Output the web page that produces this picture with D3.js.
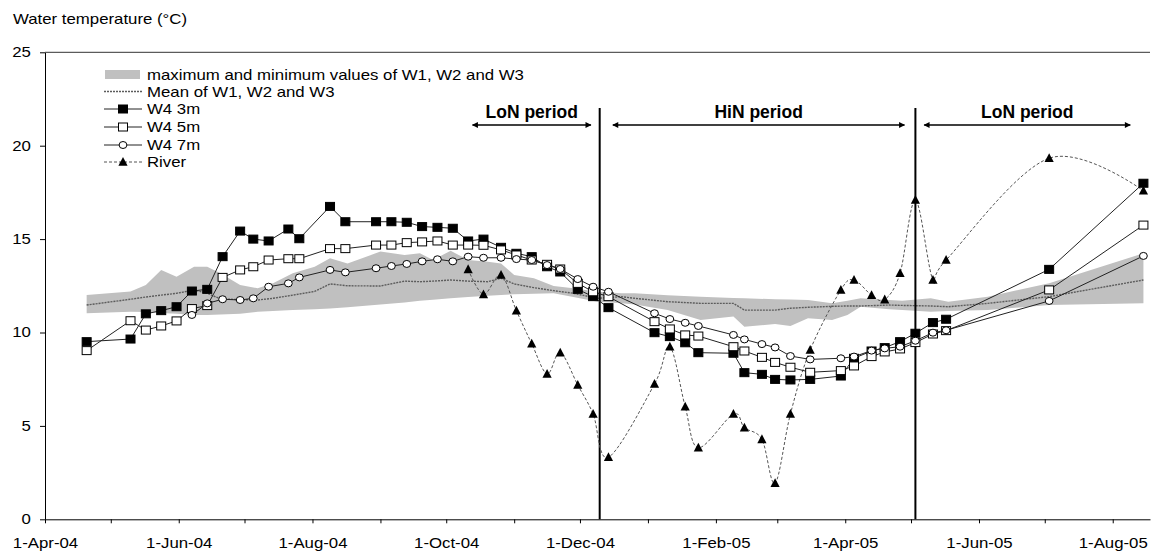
<!DOCTYPE html>
<html>
<head>
<meta charset="utf-8">
<script src="https://cdn.jsdelivr.net/npm/d3@7"></script>
<style>
  body { margin: 0; background: #fff; }
  text { font-family: "Liberation Sans", Arial, sans-serif; fill: #000; }
</style>
</head>
<body>
<div id="chart"></div>
<script>
// sampling dates of the W4 wells and the river
const sampleDates = ["2004-04-20","2004-05-10","2004-05-17","2004-05-24","2004-05-31","2004-06-07","2004-06-14","2004-06-21","2004-06-29","2004-07-05",
  "2004-07-12","2004-07-21","2004-07-26","2004-08-09","2004-08-16","2004-08-30","2004-09-06","2004-09-13","2004-09-20","2004-09-27",
  "2004-10-04","2004-10-11","2004-10-18","2004-10-26","2004-11-02","2004-11-09","2004-11-16","2004-11-22","2004-11-30","2004-12-07",
  "2004-12-14","2005-01-04","2005-01-11","2005-01-18","2005-01-24","2005-02-09","2005-02-14","2005-02-22","2005-02-28","2005-03-07",
  "2005-03-16","2005-03-30","2005-04-05","2005-04-13","2005-04-19","2005-04-26","2005-05-03","2005-05-11","2005-05-17","2005-07-03",
  "2005-08-15"];

const w4_3m = [9.51,9.65,11.0,11.17,11.38,12.22,12.31,14.06,15.43,15.0,
  14.9,15.54,15.02,16.75,15.93,15.93,15.93,15.9,15.67,15.63,
  15.58,14.9,15.0,14.56,14.24,14.06,13.52,13.24,12.31,11.92,
  11.33,9.99,9.78,9.45,8.92,8.89,7.85,7.76,7.49,7.46,
  7.49,7.67,8.62,9.01,9.19,9.51,9.96,10.53,10.71,13.38,
  17.99];

const w4_5m = [9.03,10.63,10.13,10.35,10.62,11.28,11.44,12.95,13.35,13.52,
  13.88,13.95,13.95,14.49,14.49,14.68,14.68,14.81,14.85,14.9,
  14.68,14.68,14.67,14.42,14.15,13.88,13.65,13.4,12.63,12.18,
  11.92,10.58,10.19,9.87,9.81,9.24,9.01,8.67,8.4,8.14,
  7.87,7.96,8.21,8.71,8.96,9.12,9.46,9.92,10.1,12.28,
  15.75];

const w4_7m = [null,null,null,null,null,10.94,11.56,11.78,11.74,11.83,
  12.45,12.63,12.95,13.35,13.22,13.44,13.56,13.67,13.81,13.92,
  13.81,14.06,14.0,14.0,13.93,13.88,13.61,13.4,12.86,12.45,
  12.18,11.03,10.72,10.52,10.35,9.87,9.63,9.38,9.2,8.74,
  8.56,8.62,8.71,9.03,9.15,9.24,9.56,9.99,10.12,11.69,
  14.1];

const river = [null,null,null,null,null,null,null,null,null,null,
  null,null,null,null,null,null,null,null,null,null,
  null,13.38,12.04,13.08,11.17,9.4,7.78,8.92,7.19,5.64,
  3.32,7.24,9.24,6.03,3.83,5.64,4.9,4.28,1.93,5.64,
  9.06,12.28,12.81,12.0,11.76,13.17,17.09,12.81,13.88,19.33,
  17.59];

// W1, W2, W3 envelope and mean
const bandDates = ["2004-04-20","2004-05-10","2004-05-17","2004-05-24","2004-05-31","2004-06-08","2004-06-14","2004-06-20","2004-06-29","2004-07-07",
  "2004-07-14","2004-07-23","2004-08-02","2004-08-09","2004-08-17","2004-09-01","2004-09-12","2004-09-19","2004-09-25","2004-10-03",
  "2004-10-11","2004-10-20","2004-10-26","2004-11-01","2004-11-10","2004-11-19","2004-11-28","2004-12-09","2004-12-20","2004-12-26",
  "2005-01-10","2005-01-25","2005-02-09","2005-02-14","2005-02-28","2005-03-07","2005-03-15","2005-03-26","2005-04-02","2005-04-08",
  "2005-04-21","2005-04-27","2005-05-10","2005-05-18","2005-06-05","2005-07-03","2005-08-15"];
const bandMax = [12.01,12.19,12.54,13.35,12.99,13.52,13.52,13.17,12.54,12.37,
  12.63,13.17,13.52,13.97,13.7,14.33,14.15,14.24,13.88,14.38,
  13.88,13.79,13.7,13.08,12.9,12.49,12.37,12.18,12.1,12.1,
  12.0,11.92,11.85,11.83,11.78,11.76,11.74,11.56,11.7,11.83,
  11.74,11.7,11.83,11.65,11.92,12.63,14.24];
const bandMin = [11.03,11.11,11.1,11.05,11.0,10.94,10.94,10.97,11.0,11.11,
  11.15,11.2,11.25,11.29,11.35,11.5,11.6,11.7,11.75,11.83,
  11.9,11.97,12.01,12.05,12.08,12.1,11.9,11.65,11.56,11.5,
  11.2,10.67,10.85,10.31,10.45,10.35,10.76,10.67,10.94,11.38,
  11.25,11.2,11.11,11.15,11.2,11.47,11.56];
const bandMean = [11.47,11.78,11.9,12.0,12.1,12.27,12.1,11.8,11.76,11.74,
  11.83,12.0,12.2,12.6,12.5,12.49,12.75,12.72,12.75,12.81,
  12.75,12.72,12.9,12.6,12.4,12.24,12.1,11.83,11.92,11.83,
  11.65,11.56,11.56,11.2,11.2,11.3,11.35,11.4,11.42,11.42,
  11.47,11.45,11.42,11.38,11.56,11.92,12.81];

// period boundaries and annotations
const periodLines = ["2004-12-10","2005-05-03"];
const periodNames = ["LoN period","HiN period","LoN period"];
const periodStart = ["2004-10-13","2004-12-16","2005-05-07"];
const periodEnd = ["2004-12-06","2005-04-28","2005-08-09"];

const yTicks = [0,5,10,15,20,25];

const parse = d3.utcParse("%Y-%m-%d");
const W = 1166, H = 553;
const SX = 1.2; // text in the picture is stretched sideways

const x = d3.scaleUtc()
  .domain([parse("2004-04-01"), parse("2005-08-18")])
  .range([45, 1150]);
const y = d3.scaleLinear().domain([0, 25]).range([519.3, 52.3]);

const svg = d3.select("#chart").append("svg")
  .attr("width", W).attr("height", H);

// grey envelope
const band = bandDates.map((d, i) => ({date: parse(d), hi: bandMax[i], lo: bandMin[i], mean: bandMean[i]}));
svg.append("path").datum(band)
  .attr("fill", "#c0c0c0")
  .attr("d", d3.area().x(d => x(d.date)).y0(d => y(d.lo)).y1(d => y(d.hi)));

// mean line
svg.append("path").datum(band)
  .attr("fill", "none").attr("stroke", "#5c5c5c").attr("stroke-width", 1.4)
  .attr("stroke-dasharray", "2,1")
  .attr("d", d3.line().x(d => x(d.date)).y(d => y(d.mean)));

// axes
const xAxis = d3.axisBottom(x)
  .ticks(d3.utcMonth.every(1))
  .tickSize(4).tickSizeOuter(0).tickPadding(15)
  .tickFormat(d => d.getUTCMonth() % 2 === 1 ? d3.utcFormat("%-d-%b-%y")(d) : "");
const gx = svg.append("g").attr("transform", "translate(0," + y(0) + ")").call(xAxis);
gx.select(".domain").attr("stroke", "#000");
gx.selectAll(".tick line").attr("stroke", "#000");
gx.selectAll("text").attr("font-size", 14).attr("font-family", null).attr("transform", "scale(" + SX + ",1)");

const yAxis = d3.axisLeft(y).tickValues(yTicks).tickSize(5).tickSizeOuter(0);
const gy = svg.append("g").attr("transform", "translate(" + x.range()[0] + ",0)").call(yAxis);
gy.select(".domain").attr("stroke", "#000");
gy.selectAll(".tick line").attr("stroke", "#000");
gy.selectAll("text").attr("font-size", 14).attr("font-family", null)
  .attr("x", -11.7).attr("transform", "scale(" + SX + ",1)");

// top border
svg.append("line")
  .attr("x1", x.range()[0]).attr("x2", x.range()[1])
  .attr("y1", y(25)).attr("y2", y(25))
  .attr("stroke", "#333").attr("stroke-width", 1);

// period boundary lines
svg.selectAll(".pline").data(periodLines).enter().append("line")
  .attr("x1", d => x(parse(d))).attr("x2", d => x(parse(d)))
  .attr("y1", 108).attr("y2", y(0))
  .attr("stroke", "#000").attr("stroke-width", 2);

// arrows
const defs = svg.append("defs");
defs.append("marker").attr("id", "ah").attr("viewBox", "0 0 10 10")
  .attr("refX", 9).attr("refY", 5).attr("markerWidth", 7).attr("markerHeight", 6)
  .attr("markerUnits", "userSpaceOnUse").attr("orient", "auto-start-reverse")
  .append("path").attr("d", "M0,0 L10,5 L0,10 Z").attr("fill", "#000");

periodNames.forEach((name, i) => {
  const x0 = x(parse(periodStart[i])), x1 = x(parse(periodEnd[i]));
  svg.append("line")
    .attr("x1", x0).attr("x2", x1).attr("y1", 125).attr("y2", 125)
    .attr("stroke", "#000").attr("stroke-width", 1.5)
    .attr("marker-start", "url(#ah)").attr("marker-end", "url(#ah)");
  svg.append("text")
    .attr("x", (x0 + x1) / 2).attr("y", 118)
    .attr("text-anchor", "middle").attr("font-size", 17.5).attr("font-weight", "bold")
    .text(name);
});

// series
function toPoints(vals) {
  return vals.map((v, i) => ({date: parse(sampleDates[i]), v: v})).filter(d => d.v != null);
}
const lineGen = d3.line().x(d => x(d.date)).y(d => y(d.v));

function drawMarker(g, type) {
  if (type === "fsq" || type === "osq") {
    g.append("rect").attr("x", -4.5).attr("y", -4).attr("width", 9).attr("height", 8)
      .attr("fill", type === "fsq" ? "#000" : "#fff").attr("stroke", "#000").attr("stroke-width", 1);
  } else if (type === "circ") {
    g.append("ellipse").attr("rx", 3.9).attr("ry", 3.5)
      .attr("fill", "#fff").attr("stroke", "#000").attr("stroke-width", 1);
  } else if (type === "tri") {
    g.append("path").attr("d", "M0,-5 L4.6,3.8 L-4.6,3.8 Z").attr("fill", "#000");
  }
}

// river first (smoothed dashed line)
const riverPts = toPoints(river);
svg.append("path").datum(riverPts)
  .attr("fill", "none").attr("stroke", "#555").attr("stroke-width", 1)
  .attr("stroke-dasharray", "3,2")
  .attr("d", d3.line().x(d => x(d.date)).y(d => y(d.v)).curve(d3.curveCatmullRom.alpha(0)));
riverPts.forEach(d => {
  drawMarker(svg.append("g").attr("transform", "translate(" + x(d.date) + "," + y(d.v) + ")"), "tri");
});

const series = [
  {vals: w4_3m, marker: "fsq"},
  {vals: w4_5m, marker: "osq"},
  {vals: w4_7m, marker: "circ"}
];
series.forEach(s => {
  const pts = toPoints(s.vals);
  svg.append("path").datum(pts)
    .attr("fill", "none").attr("stroke", "#222").attr("stroke-width", 1)
    .attr("d", lineGen);
  pts.forEach(d => {
    drawMarker(svg.append("g").attr("transform", "translate(" + x(d.date) + "," + y(d.v) + ")"), s.marker);
  });
});

// title
svg.append("text")
  .attr("transform", "translate(13,24) scale(" + SX + ",1)")
  .attr("font-size", 14)
  .text("Water temperature (°C)");

// legend
const legendItems = [
  {label: "maximum and minimum values of W1, W2 and W3", type: "band"},
  {label: "Mean of W1, W2 and W3", type: "mean"},
  {label: "W4 3m", type: "fsq"},
  {label: "W4 5m", type: "osq"},
  {label: "W4 7m", type: "circ"},
  {label: "River", type: "tri"}
];
const legendY = [74.5, 91.5, 109, 127, 145, 162];
legendItems.forEach((it, i) => {
  const g = svg.append("g").attr("transform", "translate(0," + legendY[i] + ")");
  if (it.type === "band") {
    g.append("rect").attr("x", 105).attr("y", -4.5).attr("width", 35).attr("height", 9).attr("fill", "#c0c0c0");
  } else if (it.type === "mean") {
    g.append("line").attr("x1", 104).attr("x2", 142).attr("stroke", "#5c5c5c")
      .attr("stroke-width", 1.4).attr("stroke-dasharray", "2,1");
  } else {
    g.append("line").attr("x1", 104).attr("x2", 142)
      .attr("stroke", it.type === "tri" ? "#555" : "#222").attr("stroke-width", 1)
      .attr("stroke-dasharray", it.type === "tri" ? "3,2" : null);
    drawMarker(g.append("g").attr("transform", "translate(123,0)"), it.type);
  }
  g.append("text")
    .attr("transform", "translate(147,5) scale(" + SX + ",1)")
    .attr("font-size", 14)
    .text(it.label);
});
</script>
</body>
</html>
